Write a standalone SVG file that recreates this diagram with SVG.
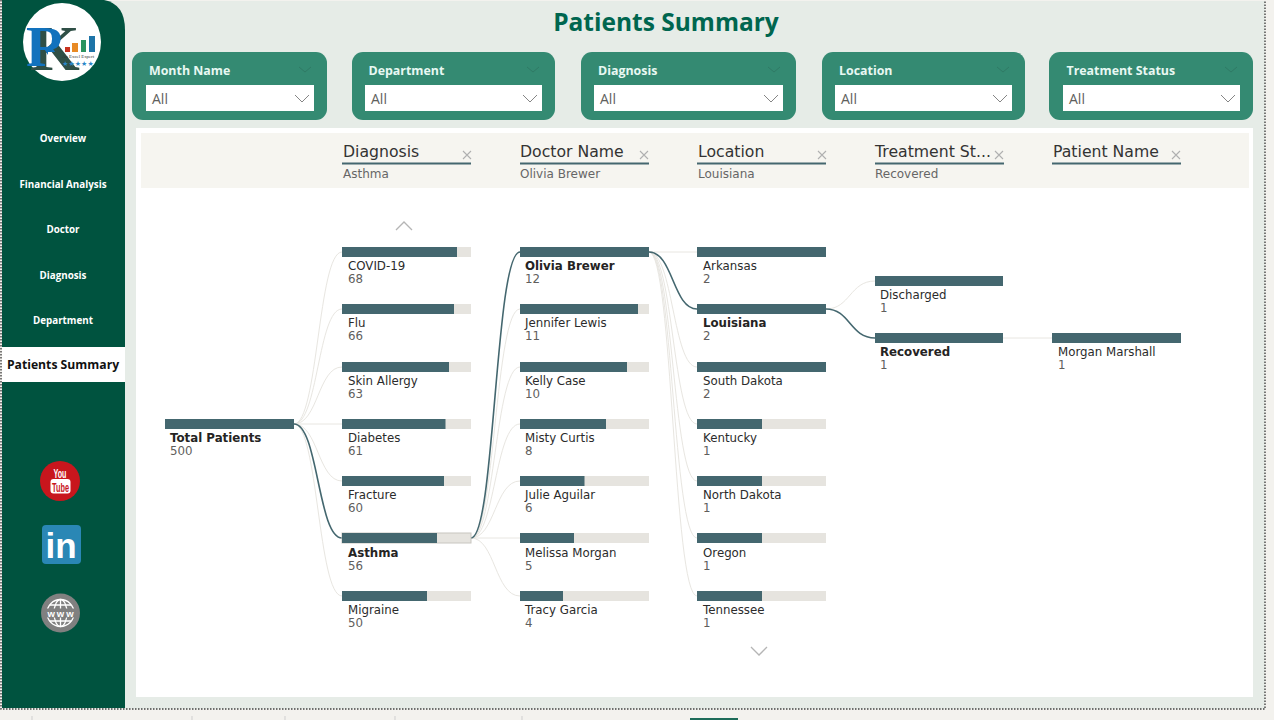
<svg xmlns="http://www.w3.org/2000/svg" width="1274" height="720" viewBox="0 0 1274 720">
<defs>
<clipPath id="logoR"><path d="M0 0H110V52H48V90H0Z"/></clipPath>
</defs>
<style>
text{font-family:"DejaVu Sans","Liberation Sans",sans-serif}
.n{font-size:11.8px;fill:#2b2b2b}
.b{font-size:11.8px;font-weight:bold;fill:#252423}
.v{font-size:11.8px;fill:#605e5c}
.track{fill:#e6e4df}
.fill{fill:#44676f}
.l{fill:none;stroke:#e8e6e1;stroke-width:1}
.h{fill:none;stroke:#44676f;stroke-width:1.6}
.hd{font-size:15.7px;fill:#333}
.sv{font-size:12px;fill:#666}
.ul{stroke:#44676f;stroke-width:2}
.x{stroke:#b0b0b0;stroke-width:1.1;fill:none}
.nav{font-family:"Open Sans",sans-serif;font-size:9.8px;font-weight:bold;fill:#fff;text-anchor:middle}
.sl{fill:#348a72}
.st{font-family:"Open Sans",sans-serif;font-size:12.4px;font-weight:bold;fill:#e8f8f2}
.all{font-family:"Open Sans",sans-serif;font-size:14px;fill:#605e5c}
.ch{fill:none;stroke:#777;stroke-width:.9}
.ch2{fill:none;stroke:#2f7a65;stroke-width:1}
.sc{fill:none;stroke:#b5b5b5;stroke-width:1.3}
.dot{fill:none;stroke:#444;stroke-width:1.4;stroke-dasharray:1.5 1.5}
</style>
<rect width="1274" height="720" fill="#f3f2ee"/>
<rect x="2" y="1" width="1263" height="708" fill="#e6ece7"/>
<path d="M2 0H104Q125 4 125 30V708H2Z" fill="#00533f"/>
<rect x="136" y="128" width="1117" height="569" fill="#fff"/>
<rect x="141" y="133" width="1108" height="55" fill="#f6f5f0"/>
<path class="dot" d="M1 0V709H1265V0"/>
<rect x="690" y="718" width="48" height="2" fill="#1d6b58"/>
<path d="M32 716v4M192 716v4M285 716v4M395 716v4M522 716v4" stroke="#cfcfcf" fill="none"/>
<text x="666" y="31" text-anchor="middle" style="font-family:'Open Sans',sans-serif;font-size:24.5px;font-weight:bold" fill="#00664f">Patients Summary</text>

<g id="logo">
<circle cx="62" cy="42" r="39" fill="#fff"/>
<text x="30" y="70" style="font-family:'Liberation Serif',serif;font-size:64px;font-weight:bold" fill="#2f4f46">K</text>
<text x="26" y="66" clip-path="url(#logoR)" style="font-family:'Liberation Serif',serif;font-size:56px;font-weight:bold" fill="#1272bd">R</text>
<rect x="65" y="47" width="5" height="5" fill="#c8321e"/>
<rect x="72" y="43" width="6" height="9" fill="#e88a25"/>
<rect x="81" y="40" width="5" height="12" fill="#2b9360"/>
<rect x="89" y="36" width="6" height="16" fill="#1d74a8"/>
<text x="78" y="58" text-anchor="middle" style="font-family:'Liberation Serif',serif;font-size:4.800px" fill="#333">An Excel Expert</text>
<text x="78" y="66" text-anchor="middle" style="font-family:'DejaVu Sans',sans-serif;font-size:7px" fill="#2a86c8">★★★★★</text>
</g>

<g id="nav">
<text class="nav" x="63" y="142">Overview</text>
<text class="nav" x="63" y="188">Financial Analysis</text>
<text class="nav" x="63" y="233">Doctor</text>
<text class="nav" x="63" y="279">Diagnosis</text>
<text class="nav" x="63" y="324">Department</text>
<rect x="2" y="347" width="123" height="35" fill="#fff"/>
<text x="63" y="369" text-anchor="middle" style="font-family:'Open Sans',sans-serif;font-size:12.2px;font-weight:bold" fill="#111">Patients Summary</text>
</g>

<g id="youtube">
<circle cx="60" cy="481" r="20" fill="#c8161d"/>
<text x="60" y="477.500" text-anchor="middle" style="font-family:'Liberation Sans',sans-serif;font-size:12px;font-weight:bold" fill="#fff" textLength="13" lengthAdjust="spacingAndGlyphs">You</text>
<rect x="50.500" y="479" width="20" height="14.500" rx="3" fill="#fff"/>
<text x="60.500" y="491.500" text-anchor="middle" style="font-family:'Liberation Sans',sans-serif;font-size:13px;font-weight:bold" fill="#c8161d" textLength="17" lengthAdjust="spacingAndGlyphs">Tube</text>
</g>
<g id="linkedin">
<rect x="42" y="525" width="39" height="39" rx="4" fill="#2a87b5"/>
<text x="61" y="558" text-anchor="middle" style="font-family:'Liberation Sans',sans-serif;font-size:35px;font-weight:bold" fill="#fff">in</text>
</g>
<g id="www">
<circle cx="60.500" cy="613" r="19.500" fill="#808080"/>
<g fill="none" stroke="#fff" stroke-width="1.300">
<circle cx="60.500" cy="613" r="13.500"/>
<ellipse cx="60.500" cy="613" rx="6.500" ry="13.500"/>
<path d="M60.500 599.500v27M50 605h21M50 621h21"/>
</g>
<rect x="45" y="608.500" width="31" height="9" fill="#808080"/>
<text x="61.500" y="616.500" text-anchor="middle" style="font-family:'Liberation Sans',sans-serif;font-size:9.500px;font-weight:bold" fill="#fff" letter-spacing="2">www</text>
</g>

<g id="slicers">
<g id="slicer-month"><rect class="sl" x="132" y="52" width="195" height="68" rx="11"/><text class="st" x="149" y="75">Month Name</text><path class="ch2" d="M299 67l6 5 6-5"/><rect x="146" y="85" width="168" height="26" fill="#fff"/><text class="all" x="152" y="104">All</text><path class="ch" d="M295 95l7 7 7-7"/></g>
<g id="slicer-department"><rect class="sl" x="352" y="52" width="203" height="68" rx="11"/><text class="st" x="368.500" y="75">Department</text><path class="ch2" d="M527 67l6 5 6-5"/><rect x="365" y="85" width="177" height="26" fill="#fff"/><text class="all" x="371" y="104">All</text><path class="ch" d="M523 95l7 7 7-7"/></g>
<g id="slicer-diagnosis"><rect class="sl" x="581" y="52" width="215" height="68" rx="11"/><text class="st" x="598" y="75">Diagnosis</text><path class="ch2" d="M768 67l6 5 6-5"/><rect x="594" y="85" width="189" height="26" fill="#fff"/><text class="all" x="600" y="104">All</text><path class="ch" d="M764 95l7 7 7-7"/></g>
<g id="slicer-location"><rect class="sl" x="822" y="52" width="203" height="68" rx="11"/><text class="st" x="839" y="75">Location</text><path class="ch2" d="M997 67l6 5 6-5"/><rect x="835" y="85" width="177" height="26" fill="#fff"/><text class="all" x="841" y="104">All</text><path class="ch" d="M993 95l7 7 7-7"/></g>
<g id="slicer-status"><rect class="sl" x="1049" y="52" width="204" height="68" rx="11"/><text class="st" x="1066.500" y="75">Treatment Status</text><path class="ch2" d="M1225 67l6 5 6-5"/><rect x="1063" y="85" width="177" height="26" fill="#fff"/><text class="all" x="1069" y="104">All</text><path class="ch" d="M1221 95l7 7 7-7"/></g>
</g>

<g id="headers">
<g><text class="hd" x="343" y="157">Diagnosis</text><path class="ul" d="M342 163.500h129"/><path class="x" d="M463 151l8 8m0-8l-8 8"/><text class="sv" x="343" y="178">Asthma</text></g>
<g><text class="hd" x="520" y="157">Doctor Name</text><path class="ul" d="M520 163.500h129"/><path class="x" d="M640 151l8 8m0-8l-8 8"/><text class="sv" x="520" y="178">Olivia Brewer</text></g>
<g><text class="hd" x="698" y="157">Location</text><path class="ul" d="M697 163.500h129"/><path class="x" d="M818 151l8 8m0-8l-8 8"/><text class="sv" x="698" y="178">Louisiana</text></g>
<g><text class="hd" x="875" y="157">Treatment St...</text><path class="ul" d="M875 163.500h129"/><path class="x" d="M995 151l8 8m0-8l-8 8"/><text class="sv" x="875" y="178">Recovered</text></g>
<g><text class="hd" x="1053" y="157">Patient Name</text><path class="ul" d="M1052 163.500h129"/><path class="x" d="M1172 151l8 8m0-8l-8 8"/></g>
</g>
<path class="sc" d="M396 230l8-8 8 8"/>
<path class="sc" d="M751 647l8 8 8-8"/>

<g id="connectors">
<path class="l" d="M294 424C318 424 318 252 342 252"/>
<path class="l" d="M294 424C318 424 318 309 342 309"/>
<path class="l" d="M294 424C318 424 318 367 342 367"/>
<path class="l" d="M294 424H342"/>
<path class="l" d="M294 424C318 424 318 481 342 481"/>
<path class="l" d="M294 424C318 424 318 596 342 596"/>
<path class="h" d="M294 424C318 424 318 538 342 538"/>
<path class="l" d="M471 538C495 538 495 309 520 309"/>
<path class="l" d="M471 538C495 538 495 367 520 367"/>
<path class="l" d="M471 538C495 538 495 424 520 424"/>
<path class="l" d="M471 538C495 538 495 481 520 481"/>
<path class="l" d="M471 538H520"/>
<path class="l" d="M471 538C495 538 495 596 520 596"/>
<path class="h" d="M471 538C495 538 495 252 520 252"/>
<path class="l" d="M649 252H697"/>
<path class="l" d="M649 252C673 252 673 367 697 367"/>
<path class="l" d="M649 252C673 252 673 424 697 424"/>
<path class="l" d="M649 252C673 252 673 481 697 481"/>
<path class="l" d="M649 252C673 252 673 538 697 538"/>
<path class="l" d="M649 252C673 252 673 596 697 596"/>
<path class="h" d="M649 252C673 252 673 309 697 309"/>
<path class="l" d="M826 309C850 309 850 281 875 281"/>
<path class="h" d="M826 309C850 309 850 338 875 338"/>
<path class="l" d="M1003 338H1052"/>
</g>

<g id="node-total"><rect class="fill" x="165" y="419" width="129" height="10"/><text class="b" x="170" y="442">Total Patients</text><text class="v" x="170" y="455">500</text></g>

<g id="node-covid"><rect class="track" x="342" y="247" width="129" height="10"/><rect class="fill" x="342" y="247" width="115" height="10"/><text class="n" x="348" y="270">COVID-19</text><text class="v" x="348" y="283">68</text></g>
<g id="node-flu"><rect class="track" x="342" y="304" width="129" height="10"/><rect class="fill" x="342" y="304" width="112" height="10"/><text class="n" x="348" y="327">Flu</text><text class="v" x="348" y="340">66</text></g>
<g id="node-skin"><rect class="track" x="342" y="362" width="129" height="10"/><rect class="fill" x="342" y="362" width="107" height="10"/><text class="n" x="348" y="385">Skin Allergy</text><text class="v" x="348" y="398">63</text></g>
<g id="node-diabetes"><rect class="track" x="342" y="419" width="129" height="10"/><rect class="fill" x="342" y="419" width="103.500" height="10"/><text class="n" x="348" y="442">Diabetes</text><text class="v" x="348" y="455">61</text></g>
<g id="node-fracture"><rect class="track" x="342" y="476" width="129" height="10"/><rect class="fill" x="342" y="476" width="102" height="10"/><text class="n" x="348" y="499">Fracture</text><text class="v" x="348" y="512">60</text></g>
<g id="node-asthma"><rect class="track" x="342" y="533" width="129" height="10" stroke="#c8c6c0"/><rect class="fill" x="342" y="533" width="95" height="10"/><text class="b" x="348" y="557">Asthma</text><text class="v" x="348" y="570">56</text></g>
<g id="node-migraine"><rect class="track" x="342" y="591" width="129" height="10"/><rect class="fill" x="342" y="591" width="85" height="10"/><text class="n" x="348" y="614">Migraine</text><text class="v" x="348" y="627">50</text></g>

<g id="node-olivia"><rect class="fill" x="520" y="247" width="129" height="10"/><text class="b" x="525" y="270">Olivia Brewer</text><text class="v" x="525" y="283">12</text></g>
<g id="node-jennifer"><rect class="track" x="520" y="304" width="129" height="10"/><rect class="fill" x="520" y="304" width="118" height="10"/><text class="n" x="525" y="327">Jennifer Lewis</text><text class="v" x="525" y="340">11</text></g>
<g id="node-kelly"><rect class="track" x="520" y="362" width="129" height="10"/><rect class="fill" x="520" y="362" width="107" height="10"/><text class="n" x="525" y="385">Kelly Case</text><text class="v" x="525" y="398">10</text></g>
<g id="node-misty"><rect class="track" x="520" y="419" width="129" height="10"/><rect class="fill" x="520" y="419" width="86" height="10"/><text class="n" x="525" y="442">Misty Curtis</text><text class="v" x="525" y="455">8</text></g>
<g id="node-julie"><rect class="track" x="520" y="476" width="129" height="10"/><rect class="fill" x="520" y="476" width="64.500" height="10"/><text class="n" x="525" y="499">Julie Aguilar</text><text class="v" x="525" y="512">6</text></g>
<g id="node-melissa"><rect class="track" x="520" y="533" width="129" height="10"/><rect class="fill" x="520" y="533" width="54" height="10"/><text class="n" x="525" y="557">Melissa Morgan</text><text class="v" x="525" y="570">5</text></g>
<g id="node-tracy"><rect class="track" x="520" y="591" width="129" height="10"/><rect class="fill" x="520" y="591" width="43" height="10"/><text class="n" x="525" y="614">Tracy Garcia</text><text class="v" x="525" y="627">4</text></g>

<g id="node-arkansas"><rect class="fill" x="697" y="247" width="129" height="10"/><text class="n" x="703" y="270">Arkansas</text><text class="v" x="703" y="283">2</text></g>
<g id="node-louisiana"><rect class="fill" x="697" y="304" width="129" height="10"/><text class="b" x="703" y="327">Louisiana</text><text class="v" x="703" y="340">2</text></g>
<g id="node-southdakota"><rect class="fill" x="697" y="362" width="129" height="10"/><text class="n" x="703" y="385">South Dakota</text><text class="v" x="703" y="398">2</text></g>
<g id="node-kentucky"><rect class="track" x="697" y="419" width="129" height="10"/><rect class="fill" x="697" y="419" width="65" height="10"/><text class="n" x="703" y="442">Kentucky</text><text class="v" x="703" y="455">1</text></g>
<g id="node-northdakota"><rect class="track" x="697" y="476" width="129" height="10"/><rect class="fill" x="697" y="476" width="65" height="10"/><text class="n" x="703" y="499">North Dakota</text><text class="v" x="703" y="512">1</text></g>
<g id="node-oregon"><rect class="track" x="697" y="533" width="129" height="10"/><rect class="fill" x="697" y="533" width="65" height="10"/><text class="n" x="703" y="557">Oregon</text><text class="v" x="703" y="570">1</text></g>
<g id="node-tennessee"><rect class="track" x="697" y="591" width="129" height="10"/><rect class="fill" x="697" y="591" width="65" height="10"/><text class="n" x="703" y="614">Tennessee</text><text class="v" x="703" y="627">1</text></g>

<g id="node-discharged"><rect class="fill" x="875" y="276" width="128" height="10"/><text class="n" x="880" y="299">Discharged</text><text class="v" x="880" y="312">1</text></g>
<g id="node-recovered"><rect class="fill" x="875" y="333" width="128" height="10"/><text class="b" x="880" y="356">Recovered</text><text class="v" x="880" y="369">1</text></g>
<g id="node-morgan"><rect class="fill" x="1052" y="333" width="129" height="10"/><text class="n" x="1058" y="356">Morgan Marshall</text><text class="v" x="1058" y="369">1</text></g>
</svg>
